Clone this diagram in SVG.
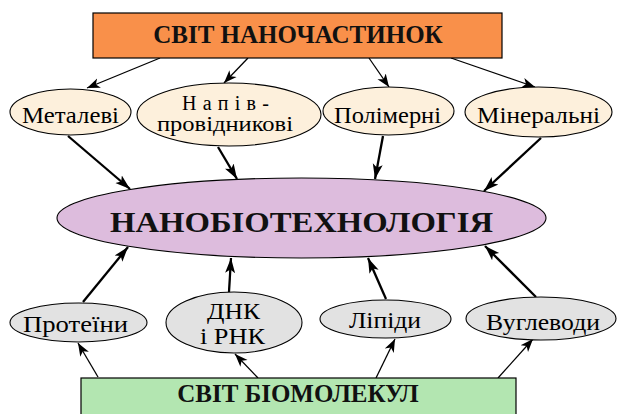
<svg xmlns="http://www.w3.org/2000/svg" width="618" height="414" viewBox="0 0 618 414">
<defs>
<style>
.box{stroke:#000;stroke-width:1.2}
.ell{stroke:#000;stroke-width:1.1}
.top{fill:#FDF0DC}
.bot{fill:#E2E2E2}
.lbl{fill:#000;text-anchor:middle}
.ttl{font-weight:bold;fill:#111;text-anchor:middle}
.thin{stroke:#000;stroke-width:1.3;fill:none;marker-end:url(#ha)}
.thick{stroke:#000;stroke-width:2.3;fill:none;marker-end:url(#hb)}
</style>
<marker id="ha" markerUnits="userSpaceOnUse" markerWidth="14" markerHeight="12" refX="13" refY="5" orient="auto" viewBox="0 0 14 10">
<path d="M0,0 L13,5 L0,10 L3.5,5 z" fill="#000"/>
</marker>
<marker id="hb" markerUnits="userSpaceOnUse" markerWidth="16" markerHeight="12" refX="15" refY="5" orient="auto" viewBox="0 0 16 10">
<path d="M0,0 L15,5 L0,10 L3.5,5 z" fill="#000"/>
</marker>
</defs>
<rect width="618" height="414" fill="#fff"/>

<g id="connectors">
<line class="thin" x1="160" y1="58" x2="87" y2="88"/>
<line class="thin" x1="248" y1="58" x2="224" y2="83"/>
<line class="thin" x1="369" y1="58" x2="389" y2="87"/>
<line class="thin" x1="451" y1="58" x2="535" y2="87"/>
<line class="thick" x1="68" y1="136" x2="130" y2="189"/>
<line class="thick" x1="218" y1="147" x2="237" y2="179"/>
<line class="thick" x1="383" y1="136" x2="375" y2="179"/>
<line class="thick" x1="541" y1="138" x2="484" y2="191"/>
<line class="thick" x1="83" y1="302" x2="128" y2="247"/>
<line class="thick" x1="229" y1="292" x2="231" y2="258"/>
<line class="thick" x1="386" y1="299" x2="368" y2="258"/>
<line class="thick" x1="536" y1="297" x2="485" y2="246"/>
<line class="thin" x1="98" y1="377" x2="78" y2="343"/>
<line class="thin" x1="258" y1="378" x2="235" y2="354"/>
<line class="thin" x1="376" y1="378" x2="395" y2="339"/>
<line class="thin" x1="498" y1="378" x2="533" y2="339"/>
</g>

<g font-family="Liberation Serif, Times New Roman, serif" font-size="23">
<g id="nanoparticles">
<rect class="box" x="93" y="13" width="409" height="45" fill="#F9904A"/>
<text class="ttl" x="298" y="43" font-size="25">СВІТ НАНОЧАСТИНОК</text>
</g>

<g id="metals">
<ellipse class="ell top" cx="70.5" cy="112" rx="60.5" ry="23"/>
<text class="lbl" x="70.5" y="123" textLength="97" lengthAdjust="spacingAndGlyphs">Металеві</text>
</g>
<g id="semiconductors">
<ellipse class="ell top" cx="229" cy="114.5" rx="92" ry="31.5"/>
<text class="lbl" x="225.5" y="110" font-size="20" textLength="87" lengthAdjust="spacing">Напів-</text>
<text class="lbl" x="225" y="131" font-size="20" textLength="136" lengthAdjust="spacingAndGlyphs">провідникові</text>
</g>
<g id="polymers">
<ellipse class="ell top" cx="388.5" cy="111" rx="65.5" ry="24"/>
<text class="lbl" x="387.5" y="123" textLength="107" lengthAdjust="spacingAndGlyphs">Полімерні</text>
</g>
<g id="minerals">
<ellipse class="ell top" cx="538.5" cy="112" rx="73.5" ry="25"/>
<text class="lbl" x="538.5" y="123" textLength="123" lengthAdjust="spacingAndGlyphs">Мінеральні</text>
</g>

<g id="nanobiotech">
<ellipse class="ell" cx="301.5" cy="218" rx="244.5" ry="40" fill="#DDBCDD"/>
<text class="ttl" x="301.5" y="232" font-size="30" textLength="383" lengthAdjust="spacingAndGlyphs">НАНОБІОТЕХНОЛОГІЯ</text>
</g>

<g id="proteins">
<ellipse class="ell bot" cx="78.5" cy="322.5" rx="68.5" ry="19.5"/>
<text class="lbl" x="75.5" y="332" textLength="105" lengthAdjust="spacingAndGlyphs">Протеїни</text>
</g>
<g id="dna-rna">
<ellipse class="ell bot" cx="234" cy="322.5" rx="68" ry="30.5"/>
<text class="lbl" x="233.5" y="319" textLength="53" lengthAdjust="spacingAndGlyphs">ДНК</text>
<text class="lbl" x="232.5" y="344" textLength="65" lengthAdjust="spacingAndGlyphs">і РНК</text>
</g>
<g id="lipids">
<ellipse class="ell bot" cx="385.5" cy="319" rx="65.5" ry="19"/>
<text class="lbl" x="385" y="328" textLength="72" lengthAdjust="spacingAndGlyphs">Ліпіди</text>
</g>
<g id="carbohydrates">
<ellipse class="ell bot" cx="541" cy="318.5" rx="75" ry="21.5"/>
<text class="lbl" x="543" y="330" textLength="114" lengthAdjust="spacingAndGlyphs">Вуглеводи</text>
</g>

<g id="biomolecules">
<rect class="box" x="81" y="378" width="435" height="42" fill="#B3E6B1"/>
<text class="ttl" x="298" y="402" font-size="25">СВІТ БІОМОЛЕКУЛ</text>
</g>
</g>
</svg>
